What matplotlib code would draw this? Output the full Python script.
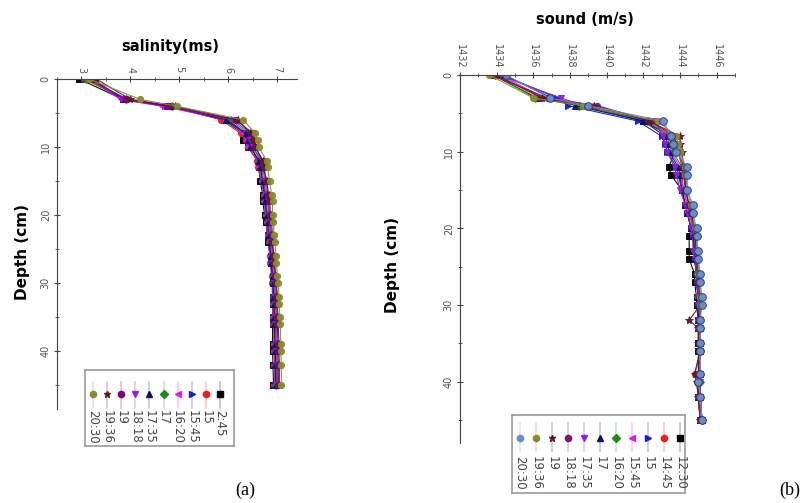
import matplotlib
matplotlib.use("Agg")
import matplotlib.pyplot as plt
from matplotlib.ticker import MultipleLocator

# depth of each reading (cm), shared by both panels
depth = [0, 3, 4, 6, 8, 9, 10, 12, 13, 15, 17, 18, 20, 21, 23, 24, 26, 27,
         29, 30, 32, 33, 35, 36, 39, 40, 42, 45]

# salinity (ms) per time of day
sal_labels = ['2:45', '15', '15:45', '16:20', '17', '17:35', '18:18', '19', '19:36', '20:30']
sal_245 = [2.95, 3.85, 4.75, 5.90, 6.30, 6.30, 6.40, 6.60, 6.62, 6.65, 6.70, 6.70, 6.74, 6.76,
           6.80, 6.80, 6.86, 6.86, 6.90, 6.90, 6.90, 6.91, 6.90, 6.90, 6.90, 6.90, 6.91, 6.92]
sal_15 = [3.05, 3.90, 4.80, 5.85, 6.25, 6.35, 6.40, 6.58, 6.60, 6.68, 6.72, 6.73, 6.76, 6.78,
          6.80, 6.82, 6.84, 6.85, 6.88, 6.89, 6.90, 6.90, 6.91, 6.92, 6.93, 6.93, 6.94, 6.94]
sal_1545 = [3.10, 3.95, 4.70, 6.00, 6.35, 6.40, 6.45, 6.62, 6.65, 6.70, 6.74, 6.75, 6.78, 6.80,
            6.82, 6.84, 6.86, 6.87, 6.90, 6.91, 6.92, 6.93, 6.93, 6.94, 6.95, 6.95, 6.96, 6.96]
sal_1620 = [3.15, 3.80, 4.65, 5.95, 6.30, 6.35, 6.40, 6.60, 6.63, 6.68, 6.72, 6.73, 6.76, 6.78,
            6.80, 6.82, 6.85, 6.86, 6.89, 6.90, 6.91, 6.92, 6.92, 6.93, 6.94, 6.94, 6.95, 6.95]
sal_17 = [3.10, 3.90, 4.85, 6.05, 6.40, 6.45, 6.50, 6.65, 6.68, 6.72, 6.76, 6.77, 6.80, 6.82,
          6.84, 6.85, 6.88, 6.89, 6.92, 6.93, 6.94, 6.95, 6.95, 6.96, 6.97, 6.97, 6.98, 6.98]
sal_1735 = [3.20, 3.85, 4.80, 5.95, 6.35, 6.40, 6.45, 6.62, 6.65, 6.70, 6.74, 6.75, 6.78, 6.80,
            6.82, 6.84, 6.86, 6.87, 6.90, 6.91, 6.92, 6.93, 6.94, 6.94, 6.95, 6.96, 6.96, 6.97]
sal_1818 = [3.25, 3.80, 4.70, 6.10, 6.45, 6.45, 6.50, 6.68, 6.70, 6.75, 6.78, 6.80, 6.82, 6.84,
            6.86, 6.87, 6.90, 6.91, 6.94, 6.95, 6.96, 6.97, 6.97, 6.98, 6.99, 6.99, 7.00, 7.00]
sal_19 = [3.20, 3.90, 4.75, 6.15, 6.50, 6.50, 6.55, 6.70, 6.72, 6.78, 6.80, 6.82, 6.84, 6.86,
          6.88, 6.89, 6.92, 6.93, 6.96, 6.97, 6.98, 6.99, 6.99, 7.00, 7.01, 7.01, 7.02, 7.02]
sal_1936 = [3.30, 4.00, 4.90, 6.20, 6.45, 6.50, 6.55, 6.70, 6.72, 6.78, 6.82, 6.84, 6.86, 6.88,
            6.90, 6.90, 6.93, 6.94, 6.97, 6.98, 7.00, 7.00, 7.01, 7.02, 7.03, 7.03, 7.04, 7.04]
sal_2030 = [3.15, 4.20, 4.95, 6.30, 6.55, 6.60, 6.62, 6.78, 6.80, 6.84, 6.88, 6.90, 6.90, 6.92,
            6.93, 6.95, 6.97, 6.98, 7.00, 7.02, 7.03, 7.04, 7.05, 7.06, 7.07, 7.07, 7.08, 7.08]
sal_values = [sal_245, sal_15, sal_1545, sal_1620, sal_17, sal_1735, sal_1818, sal_19, sal_1936, sal_2030]

# sound speed (m/s) per time of day
snd_labels = ['12:30', '14:45', '15', '15:45', '16:20', '17', '17:35', '18:18', '19', '19:36', '20:30']
snd_1230 = [1433.8, 1436.2, 1438.6, 1442.0, 1443.5, 1443.6, 1443.7, 1443.4, 1443.5, 1444.1, 1444.3, 1444.4, 1444.6, 1444.5,
            1444.5, 1444.5, 1444.8, 1444.8, 1444.9, 1444.9, 1445.0, 1445.0, 1445.0, 1445.0, 1445.0, 1445.0, 1445.0, 1445.1]
snd_1445 = [1434.0, 1436.4, 1438.9, 1442.3, 1443.6, 1443.8, 1443.9, 1444.1, 1444.1, 1444.2, 1444.4, 1444.5, 1444.7, 1444.7,
            1444.8, 1444.8, 1444.9, 1444.9, 1445.0, 1445.0, 1445.0, 1445.0, 1445.1, 1445.1, 1444.8, 1444.9, 1445.0, 1445.1]
snd_15 = [1434.3, 1437.3, 1437.9, 1441.7, 1443.0, 1443.2, 1443.3, 1443.8, 1443.9, 1444.1, 1444.3, 1444.4, 1444.6, 1444.7,
          1444.8, 1444.8, 1444.9, 1444.9, 1445.0, 1445.0, 1445.1, 1445.1, 1445.1, 1445.1, 1445.1, 1445.1, 1445.1, 1445.2]
snd_1545 = [1434.2, 1436.6, 1439.1, 1442.5, 1443.3, 1443.4, 1443.5, 1444.0, 1444.0, 1444.2, 1444.4, 1444.5, 1444.7, 1444.7,
            1444.8, 1444.8, 1444.9, 1444.9, 1445.0, 1445.0, 1445.0, 1445.0, 1445.1, 1445.1, 1445.1, 1445.0, 1445.1, 1445.2]
snd_1620 = [1433.9, 1436.1, 1438.5, 1442.2, 1443.4, 1443.5, 1443.6, 1444.1, 1444.2, 1444.3, 1444.5, 1444.6, 1444.7, 1444.8,
            1444.8, 1444.9, 1444.9, 1445.0, 1445.0, 1445.1, 1445.1, 1445.1, 1445.1, 1445.1, 1445.1, 1445.1, 1445.1, 1445.2]
snd_17 = [1434.4, 1437.0, 1438.3, 1442.0, 1443.2, 1443.3, 1443.4, 1443.9, 1444.0, 1444.1, 1444.3, 1444.4, 1444.6, 1444.7,
          1444.8, 1444.8, 1444.9, 1444.9, 1445.0, 1445.0, 1445.0, 1445.1, 1445.1, 1445.1, 1445.1, 1445.0, 1445.1, 1445.2]
snd_1735 = [1434.1, 1437.5, 1438.8, 1442.6, 1443.1, 1443.2, 1443.3, 1443.7, 1443.8, 1444.0, 1444.3, 1444.4, 1444.6, 1444.7,
            1444.7, 1444.8, 1444.9, 1444.9, 1445.0, 1445.0, 1445.1, 1445.1, 1445.1, 1445.1, 1445.1, 1445.1, 1445.1, 1445.2]
snd_1818 = [1433.7, 1436.8, 1439.5, 1442.4, 1443.7, 1443.8, 1443.9, 1444.2, 1444.2, 1444.3, 1444.5, 1444.6, 1444.8, 1444.8,
            1444.9, 1444.9, 1445.0, 1445.0, 1445.1, 1445.1, 1445.1, 1445.1, 1445.1, 1445.1, 1445.1, 1445.0, 1445.1, 1445.2]
snd_19 = [1434.0, 1436.5, 1439.3, 1442.3, 1444.0, 1444.0, 1444.1, 1444.2, 1444.3, 1444.3, 1444.5, 1444.6, 1444.8, 1444.8,
          1444.9, 1444.9, 1445.0, 1445.0, 1445.1, 1445.1, 1444.5, 1445.0, 1445.0, 1445.1, 1444.8, 1444.9, 1445.0, 1445.1]
snd_1936 = [1433.6, 1436.0, 1438.7, 1442.8, 1443.8, 1443.9, 1444.0, 1444.3, 1444.3, 1444.4, 1444.6, 1444.7, 1444.8, 1444.9,
            1444.9, 1445.0, 1445.0, 1445.1, 1445.1, 1445.1, 1445.1, 1445.1, 1445.1, 1445.1, 1445.1, 1445.0, 1445.1, 1445.2]
snd_2030 = [1434.5, 1436.9, 1439.0, 1443.1, 1443.5, 1443.6, 1443.8, 1444.4, 1444.4, 1444.4, 1444.7, 1444.7, 1444.9, 1444.9,
            1445.0, 1445.0, 1445.1, 1445.1, 1445.2, 1445.2, 1445.1, 1445.1, 1445.1, 1445.1, 1445.1, 1445.0, 1445.1, 1445.2]
snd_values = [snd_1230, snd_1445, snd_15, snd_1545, snd_1620, snd_17, snd_1735, snd_1818, snd_19, snd_1936, snd_2030]

# marker / colour per series
sal_styles = [('s', 'black'), ('o', '#e8201c'), ('>', '#1a1adb'), ('<', '#e020e0'), ('D', '#1a8c1a'),
              ('^', '#101070'), ('v', '#9020d0'), ('o', '#800080'), ('*', '#5a1a2a'), ('o', '#8c8a30')]
snd_styles = [('s', 'black'), ('o', '#e8201c'), ('>', '#1a1adb'), ('<', '#e020e0'), ('D', '#1a8c1a'),
              ('^', '#101070'), ('v', '#9020d0'), ('o', '#7a1a6a'), ('*', '#5a1a2a'), ('o', '#8c8a30'),
              ('o', '#6a8cd0')]

W, H = 805, 503
fig = plt.figure(figsize=(W / 100, H / 100), dpi=100)


def px(x0, y0, x1, y1):
    # pixel box -> figure fraction rect
    return [x0 / W, 1 - y1 / H, (x1 - x0) / W, (y1 - y0) / H]


def panel(rect, xlim, ylim, xmaj, xmin, values, styles):
    ax = fig.add_axes(rect)
    for vals, (m, c) in zip(values, styles):
        ms, mec = 4.5, c
        if m == '*':
            ms = 6
        if c == '#6a8cd0':   # the pale blue 20:30 points are bigger, with a dark rim
            ms, mec = 5.5, '#2a3a70'
        ax.plot(vals, depth, color=c, lw=0.8, marker=m, ms=ms, mec=mec, mew=0.7, mfc=c, alpha=0.95)
    ax.set_xlim(*xlim)
    ax.set_ylim(*ylim)
    ax.xaxis.tick_top()
    ax.xaxis.set_major_locator(MultipleLocator(xmaj))
    ax.xaxis.set_minor_locator(MultipleLocator(xmin))
    ax.yaxis.set_major_locator(MultipleLocator(10))
    ax.yaxis.set_minor_locator(MultipleLocator(5))
    for s in ['right', 'bottom']:
        ax.spines[s].set_visible(False)
    for s in ['left', 'top']:
        ax.spines[s].set_color('#444444')
    ax.tick_params(which='both', direction='inout', color='#444444', labelsize=7, labelcolor='#555555')
    ax.tick_params(which='major', length=5)
    ax.tick_params(which='minor', length=3)
    ax.tick_params(axis='x', labelrotation=-90, pad=2)
    ax.tick_params(axis='y', labelrotation=90, pad=2)
    for t in ax.get_yticklabels():
        t.set_va('center')
    return ax


def legend_box(rect, labels, styles, xlim, mark_y, line_y, text_y, height):
    lg = fig.add_axes(rect)
    lg.set_xlim(*xlim)
    lg.set_ylim(height, 0)
    lg.set_xticks([])
    lg.set_yticks([])
    for s in lg.spines.values():
        s.set_color('#999999')
        s.set_linewidth(1.2)
    # entries are drawn last-first, so the last series sits on the left
    for i, (lab, (m, c)) in enumerate(zip(labels[::-1], styles[::-1])):
        lg.plot([i, i], line_y, color=c, lw=1.2, alpha=0.25)
        lg.plot([i], [mark_y], marker=m, color=c, ms=5 if m == '*' else 4.5, mec=c)
        lg.text(i, text_y, lab, rotation=-90, ha='center', va='top', fontsize=8.5, color='#444444')
    return lg


# panel (a): salinity
panel(px(57, 79, 297, 409), (2.5, 7.4), (48.5, 0), 1, 0.5, sal_values, sal_styles)
legend_box(px(85, 370, 234, 446), sal_labels, sal_styles, (-0.57, 10.0), 24, [12, 38], 40, 76)

# panel (b): sound speed
panel(px(460, 75, 735, 443), (1432, 1447), (48, 0), 2, 1, snd_values, snd_styles)
legend_box(px(512, 415, 685, 493), snd_labels, snd_styles, (-0.5, 10.3), 23, [8, 36], 41, 78)

fig.text(170 / W, 1 - 47 / H, 'salinity(ms)', ha='center', va='center', fontsize=10.5, fontweight='bold')
fig.text(585 / W, 1 - 19 / H, 'sound (m/s)', ha='center', va='center', fontsize=10.5, fontweight='bold')
fig.text(22 / W, 1 - 252 / H, 'Depth (cm)', ha='center', va='center', rotation=90, fontsize=11, fontweight='bold')
fig.text(392 / W, 1 - 265 / H, 'Depth (cm)', ha='center', va='center', rotation=90, fontsize=11, fontweight='bold')
fig.text(245 / W, 1 - 490 / H, '(a)', ha='center', va='center', fontsize=13, family='Liberation Serif')
fig.text(790 / W, 1 - 490 / H, '(b)', ha='center', va='center', fontsize=13, family='Liberation Serif')

fig.savefig('out.png', dpi=100)
